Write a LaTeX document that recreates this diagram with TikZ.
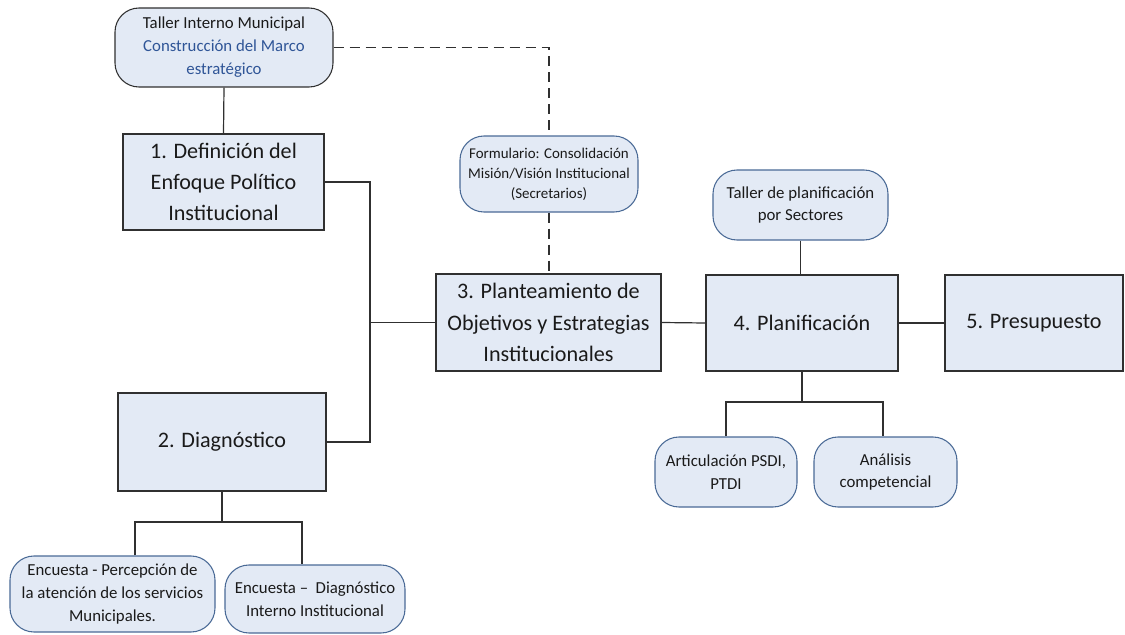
\documentclass[tikz,border=0pt]{standalone}
\usepackage{fontspec}
\setmainfont{Carlito}
\definecolor{boxfill}{HTML}{E3EAF5}
\definecolor{pillborder}{HTML}{4A6A96}
\definecolor{linegray}{HTML}{303030}
\definecolor{txt}{HTML}{1A1A1A}
\definecolor{bluetxt}{HTML}{2F5597}
\tikzset{
 mainbox/.style={draw=linegray, fill=boxfill, line width=1.1pt, inner sep=0pt, align=center, font=\fontsize{16.6}{23.5}\selectfont, text=txt},
 pill/.style={draw=pillborder, fill=boxfill, line width=0.8pt, rounded corners=18pt, inner sep=0pt, align=center, font=\fontsize{12.6}{17.2}\selectfont, text=txt},
 conn/.style={draw=linegray, line width=0.9pt},
 dconn/.style={conn, dash pattern=on 7.5pt off 4.5pt}
}
\begin{document}
\begin{tikzpicture}[x=0.75pt,y=-0.75pt]
\useasboundingbox (0,0) rectangle (1125,635);
% nodes
\node[pill, draw=linegray, minimum width=163.5pt, minimum height=59.25pt] (TI) at (224,47.5) {Taller Interno Municipal\\\textcolor{bluetxt}{Construcción del Marco}\\\textcolor{bluetxt}{estratégico}};
\node[mainbox, minimum width=150.75pt, minimum height=72pt] (B1) at (223.5,182) {1. Definición del\\Enfoque Político\\Institucional};
\node[pill, font=\fontsize{11.2}{15}\selectfont, minimum width=133.5pt, minimum height=57pt] (F) at (549,174) {Formulario: Consolidación\\Misión/Visión Institucional\\(Secretarios)};
\node[pill, minimum width=131.25pt, minimum height=52.5pt] (TP) at (800.5,205) {Taller de planificación\\por Sectores};
\node[mainbox, minimum width=168.75pt, minimum height=72.75pt] (B3) at (548.5,322.5) {3. Planteamiento de\\Objetivos y Estrategias\\Institucionales};
\node[mainbox, minimum width=144pt, minimum height=72pt] (B4) at (802,323) {4. Planificación};
\node[mainbox, minimum width=133.5pt, minimum height=72pt] (B5) at (1034,323) {5. Presupuesto};
\node[mainbox, minimum width=156pt, minimum height=73.5pt] (B2) at (222,442) {2. Diagnóstico};
\node[pill, minimum width=153.75pt, minimum height=57pt] (E1) at (112.5,594) {Encuesta - Percepción de\\la atención de los servicios\\Municipales.};
\node[pill, minimum width=135pt, minimum height=51pt] (E2) at (315,599) {Encuesta –\ \ Diagnóstico\\Interno Institucional};
\node[pill, minimum width=106.5pt, minimum height=52.5pt] (A) at (726,472) {Articulación PSDI,\\PTDI};
\node[pill, minimum width=107.25pt, minimum height=52.5pt] (AN) at (885.5,472) {Análisis\\competencial};
% helper coordinates
\coordinate (jx) at (370,0);
\coordinate (j4) at (0,402);
\coordinate (j2) at (0,522);
\coordinate (e1x) at (135,0);
\coordinate (e2x) at (302,0);
\coordinate (anx) at (883,0);
% connectors
\draw[conn] (TI.south) -- (B1.north);
\draw[dconn] (TI.east) -| (F.north);
\draw[dconn] (F.south) -- (F.south |- B3.north);
\draw[conn] (B1.east) -| (jx |- B2.east) -- (B2.east);
\draw[conn] (jx |- B3.west) -- (B3.west);
\draw[conn] (B3.east) -- (B4.west);
\draw[conn] (B4.east) -- (B5.west);
\draw[conn] (TP.south) -- (TP.south |- B4.north);
\draw[conn] (B4.south) -- (B4.south |- j4);
\draw[conn] (A.north) |- (B4.south |- j4) -| (anx |- AN.north);
\draw[conn] (B2.south) -- (B2.south |- j2);
\draw[conn] (e1x |- E1.north) |- (B2.south |- j2) -| (e2x |- E2.north);
\end{tikzpicture}
\end{document}
